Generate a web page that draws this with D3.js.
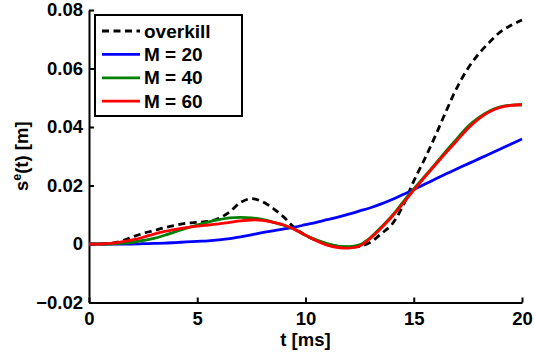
<!DOCTYPE html>
<html>
<head>
<meta charset="utf-8">
<script src="https://cdn.jsdelivr.net/npm/d3@7"></script>
<style>
  body { margin: 0; background: #fff; }
  svg { display: block; font-family: "Liberation Sans", Arial, sans-serif; font-weight: bold; }
  .axis path { stroke: #000; stroke-width: 2; }
  .axis line { stroke: #000; stroke-width: 2; }
  .axis text { font-size: 18.5px; font-weight: bold; fill: #000; font-family: "Liberation Sans", Arial, sans-serif; }
</style>
</head>
<body>
<div id="chart"></div>
<script>
// time axis [ms]
var tVals = d3.range(0, 20.001, 0.5);

var overkill = [0, 0, 0.0002, 0.0010, 0.0024, 0.0036, 0.0046, 0.0056, 0.0064, 0.0071,
  0.0074, 0.0077, 0.0088, 0.0110, 0.0142, 0.0155, 0.0145, 0.0122, 0.0092, 0.0055,
  0.0030, 0.0012, 0.0000, -0.0008, -0.0011, -0.0008, 0.0006, 0.0035, 0.0068, 0.0130,
  0.0215, 0.0290, 0.0370, 0.0455, 0.0535, 0.0600, 0.0650, 0.0690, 0.0725, 0.0748, 0.0766];

var m20 = [0, 0, 0, 0, 0, 0.0001, 0.0002, 0.0003, 0.0005, 0.0007,
  0.0009, 0.0011, 0.0014, 0.0018, 0.0024, 0.0031, 0.0039, 0.0045, 0.0052, 0.0058,
  0.0066, 0.0074, 0.0083, 0.0092, 0.0102, 0.0113, 0.0124, 0.0137, 0.0152, 0.0169,
  0.0186, 0.0204, 0.0222, 0.0240, 0.0257, 0.0274, 0.0291, 0.0308, 0.0325, 0.0342, 0.0359];

var m40 = [0, 0, 0, 0.0002, 0.0006, 0.0012, 0.0019, 0.0030, 0.0042, 0.0054,
  0.0065, 0.0075, 0.0083, 0.0089, 0.0091, 0.0089, 0.0084, 0.0075, 0.0064, 0.0050,
  0.0030, 0.0014, 0.0001, -0.0007, -0.0009, -0.0003, 0.0022, 0.0058, 0.0097, 0.0143,
  0.0188, 0.0231, 0.0274, 0.0318, 0.0360, 0.0402, 0.0432, 0.0455, 0.0469, 0.0475, 0.0476];

var m60 = [0, 0, 0.0002, 0.0007, 0.0014, 0.0023, 0.0034, 0.0043, 0.0050, 0.0056,
  0.0061, 0.0065, 0.0069, 0.0074, 0.0079, 0.0082, 0.0081, 0.0074, 0.0065, 0.0050,
  0.0030, 0.0011, -0.0004, -0.0012, -0.0014, -0.0007, 0.0020, 0.0055, 0.0094, 0.0138,
  0.0184, 0.0228, 0.0271, 0.0313, 0.0354, 0.0395, 0.0428, 0.0452, 0.0467, 0.0474, 0.0476];

var seriesNames = ["overkill", "M = 20", "M = 40", "M = 60"];
var xTicks = [0, 5, 10, 15, 20];
var yTicks = [-0.02, 0, 0.02, 0.04, 0.06, 0.08];

var width = 534, height = 357;
var margin = {top: 10, right: 12, bottom: 54.5, left: 89};
var chartW = width - margin.left - margin.right,
    chartH = height - margin.top - margin.bottom;

var svg = d3.select("#chart").append("svg")
    .attr("width", width)
    .attr("height", height);

var x = d3.scaleLinear().domain([0, 20]).range([0, chartW]);
var y = d3.scaleLinear().domain([-0.02, 0.08]).range([chartH, 0]);

var g = svg.append("g")
    .attr("transform", "translate(" + margin.left + "," + margin.top + ")");

var fmtY = function(d) {
  if (d === 0) return "0";
  return (d < 0 ? "\u2212" : "") + d3.format(".2f")(Math.abs(d));
};

g.append("g")
    .attr("class", "x axis")
    .attr("transform", "translate(0," + chartH + ")")
    .call(d3.axisBottom(x).tickValues(xTicks).tickSizeInner(-5).tickSizeOuter(0).tickPadding(9)
      .tickFormat(d3.format("d")));

g.append("g")
    .attr("class", "y axis")
    .call(d3.axisLeft(y).tickValues(yTicks).tickSizeInner(-5).tickSizeOuter(0).tickPadding(6)
      .tickFormat(fmtY));

var series = [
  {name: seriesNames[0], values: overkill, color: "#000000", dash: "7,4.5"},
  {name: seriesNames[1], values: m20, color: "#0000ff", dash: null},
  {name: seriesNames[2], values: m40, color: "#008000", dash: null},
  {name: seriesNames[3], values: m60, color: "#ff0000", dash: null}
];

var line = d3.line()
    .x(function(d) { return x(d[0]); })
    .y(function(d) { return y(d[1]); })
    .curve(d3.curveCatmullRom.alpha(0.5));

g.selectAll(".series")
    .data(series)
  .enter().append("path")
    .attr("class", "series")
    .attr("fill", "none")
    .attr("stroke", function(d) { return d.color; })
    .attr("stroke-width", 2.8)
    .attr("stroke-dasharray", function(d) { return d.dash; })
    .attr("d", function(d) {
      return line(d.values.map(function(v, i) { return [tVals[i], v]; }));
    });

// axis titles
svg.append("text")
    .attr("x", margin.left + chartW / 2)
    .attr("y", 346)
    .attr("text-anchor", "middle")
    .style("font-size", "18.5px")
    .text("t [ms]");

var yl = svg.append("text")
    .attr("transform", "translate(28," + (margin.top + chartH / 2) + ") rotate(-90)")
    .attr("text-anchor", "middle")
    .style("font-size", "18.5px");
yl.append("tspan").text("s");
yl.append("tspan").attr("dy", -7).style("font-size", "12.5px").text("e");
yl.append("tspan").attr("dy", 7).text("(t) [m]");

// legend
var legend = svg.append("g").attr("class", "legend");
legend.append("rect")
    .attr("x", 95).attr("y", 15)
    .attr("width", 147).attr("height", 101)
    .attr("fill", "#fff")
    .attr("stroke", "#000")
    .attr("stroke-width", 2);

var items = legend.selectAll(".item")
    .data(series)
  .enter().append("g")
    .attr("class", "item")
    .attr("transform", function(d, i) { return "translate(0," + (31 + i * 23.4) + ")"; });

items.append("line")
    .attr("x1", 102).attr("x2", 140)
    .attr("stroke", function(d) { return d.color; })
    .attr("stroke-width", 2.8)
    .attr("stroke-dasharray", function(d) { return d.dash; });

items.append("text")
    .attr("x", 144)
    .attr("y", 6.5)
    .style("font-size", "19px")
    .text(function(d) { return d.name; });
</script>
</body>
</html>
